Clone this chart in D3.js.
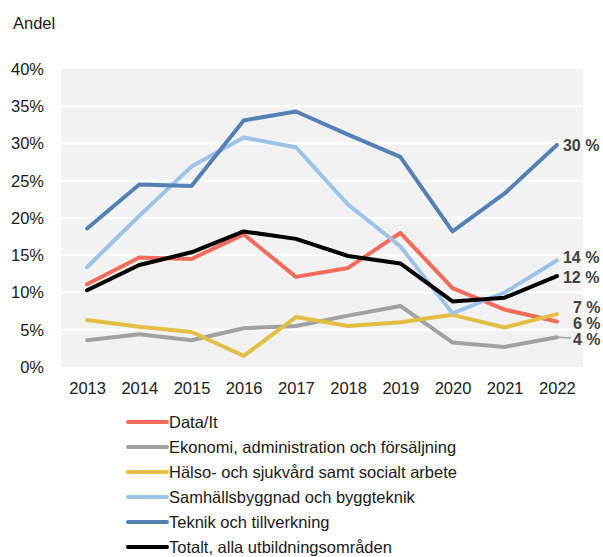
<!DOCTYPE html>
<html>
<head>
<meta charset="utf-8">
<script src="https://cdn.jsdelivr.net/npm/d3@7"></script>
<style>
  body { margin: 0; background: #fff; }
  svg { font-family: "Liberation Sans", Arial, Helvetica, sans-serif; }
</style>
</head>
<body>
<div id="chart"></div>
<script>
// Data
const years = ['2013', '2014', '2015', '2016', '2017', '2018', '2019', '2020', '2021', '2022'];
const yTicks = [0, 5, 10, 15, 20, 25, 30, 35, 40];

const dataIt = [11.1, 14.7, 14.5, 17.8, 12.1, 13.3, 18.0, 10.6, 7.7, 6.1];
const ekonomi = [3.6, 4.4, 3.6, 5.2, 5.5, 6.9, 8.2, 3.3, 2.7, 4.0];
const halso = [6.3, 5.4, 4.7, 1.5, 6.7, 5.5, 6.0, 7.0, 5.3, 7.1];
const samhall = [13.4, 20.3, 26.9, 30.8, 29.5, 21.8, 16.2, 7.2, 10.0, 14.3];
const teknik = [18.6, 24.5, 24.3, 33.1, 34.3, 31.2, 28.2, 18.2, 23.3, 29.8];
const totalt = [10.3, 13.7, 15.4, 18.2, 17.2, 14.9, 13.9, 8.8, 9.3, 12.2];

const seriesNames = [
    'Data/It',
    'Ekonomi, administration och försäljning',
    'Hälso- och sjukvård samt socialt arbete',
    'Samhällsbyggnad och byggteknik',
    'Teknik och tillverkning',
    'Totalt, alla utbildningsområden'
];
const endLabels = ['6 %', '4 %', '7 %', '14 %', '30 %', '12 %'];

const colors = ['#f26b5b', '#a0a2a1', '#e3bf45', '#9dc3e6', '#5580b3', '#000000'];
const series = [dataIt, ekonomi, halso, samhall, teknik, totalt];

const width = 603, height = 557;
const plot = { left: 61, right: 583, top: 69, bottom: 367 };
const fontSize = 16.5;

const svg = d3.select('#chart')
    .append('svg')
    .attr('width', width)
    .attr('height', height);

const x = d3.scalePoint(years, [plot.left, plot.right]).padding(0.5);
const y = d3.scaleLinear([0, 40], [plot.bottom, plot.top]);

// Plot background
svg.append('rect')
    .attr('x', plot.left)
    .attr('y', plot.top)
    .attr('width', plot.right - plot.left)
    .attr('height', plot.bottom - plot.top)
    .attr('fill', '#f2f2f2');

// White gridlines
svg.append('g')
    .selectAll('line')
    .data(yTicks.filter(d => d > 0 && d < 40))
    .enter()
    .append('line')
    .attr('x1', plot.left)
    .attr('x2', plot.right)
    .attr('y1', d => y(d))
    .attr('y2', d => y(d))
    .attr('stroke', '#fff')
    .attr('stroke-width', 2);

// Y axis labels
const yAxis = svg.append('g')
    .attr('transform', `translate(${plot.left},0)`)
    .call(d3.axisLeft(y).tickValues(yTicks).tickFormat(d => d + '%').tickSize(0).tickPadding(17));
yAxis.select('.domain').remove();
yAxis.selectAll('text')
    .attr('font-size', fontSize)
    .attr('font-family', '"Liberation Sans", Arial, sans-serif')
    .attr('fill', '#1a1a1a');

// X axis labels
const xAxis = svg.append('g')
    .attr('transform', `translate(0,${plot.bottom})`)
    .call(d3.axisBottom(x).tickSize(0).tickPadding(15));
xAxis.select('.domain').remove();
xAxis.selectAll('text')
    .attr('font-size', fontSize)
    .attr('font-family', '"Liberation Sans", Arial, sans-serif')
    .attr('fill', '#1a1a1a');

// Axis title
svg.append('text')
    .attr('x', 13)
    .attr('y', 29)
    .attr('font-size', fontSize)
    .attr('fill', '#1a1a1a')
    .text('Andel');

// Lines
const line = d3.line()
    .x((d, i) => x(years[i]))
    .y(d => y(d));

series.forEach((s, i) => {
    svg.append('path')
        .datum(s)
        .attr('d', line)
        .attr('fill', 'none')
        .attr('stroke', colors[i])
        .attr('stroke-width', 4)
        .attr('stroke-linejoin', 'round')
        .attr('stroke-linecap', 'round');
});

// End labels
const lastYear = years[years.length - 1];
const labelY = [323, 339, 307, 257, 145, 277];
series.forEach((s, i) => {
    const lx = i <= 2 ? x(lastYear) + 16 : x(lastYear) + 6;
    svg.append('text')
        .attr('x', lx)
        .attr('y', labelY[i])
        .attr('dy', '0.35em')
        .attr('font-size', 16)
        .attr('font-weight', 'bold')
        .attr('fill', '#404040')
        .text(endLabels[i]);
});

// Leader line for 4 %
svg.append('line')
    .attr('x1', x(lastYear) + 2)
    .attr('x2', x(lastYear) + 14)
    .attr('y1', y(ekonomi[ekonomi.length - 1]))
    .attr('y2', 338)
    .attr('stroke', '#a0a2a1')
    .attr('stroke-width', 1.5);

// Legend
const legend = svg.append('g')
    .attr('transform', 'translate(128,422)');
seriesNames.forEach((name, i) => {
    const g = legend.append('g').attr('transform', `translate(0,${i * 25})`);
    g.append('line')
        .attr('x1', 0)
        .attr('x2', 39)
        .attr('stroke', colors[i])
        .attr('stroke-width', 4)
        .attr('stroke-linecap', 'round');
    g.append('text')
        .attr('x', 41)
        .attr('dy', '0.35em')
        .attr('font-size', 16.5)
        .attr('fill', '#1a1a1a')
        .text(name);
});
</script>
</body>
</html>
